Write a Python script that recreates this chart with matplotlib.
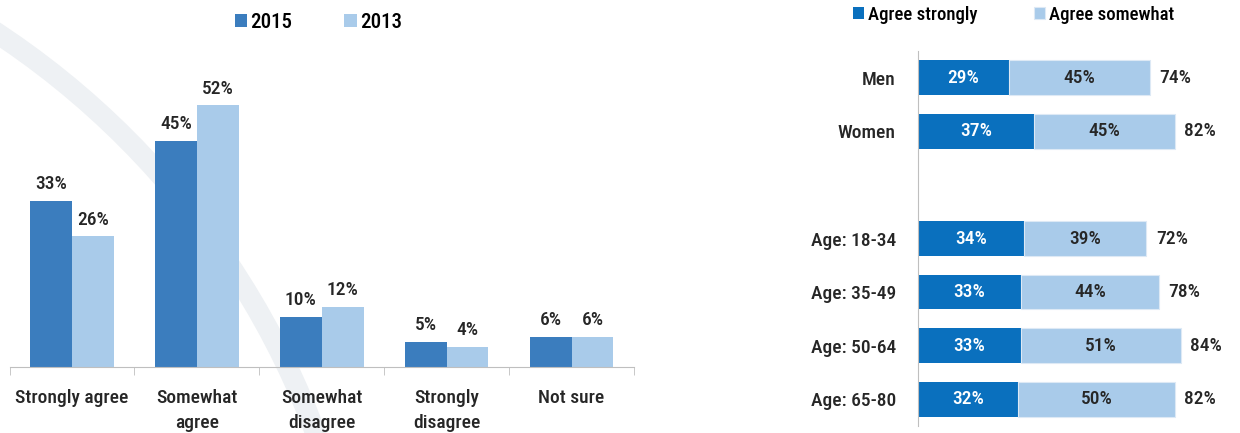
import matplotlib.pyplot as plt
import numpy as np
from matplotlib.patches import Arc

# left chart data
categories = ['Strongly agree', 'Somewhat\nagree', 'Somewhat\ndisagree', 'Strongly\ndisagree', 'Not sure']
vals_2015 = [33, 45, 10, 5, 6]
vals_2013 = [26, 52, 12, 4, 6]

# right chart data
groups = ['Men', 'Women', 'Age: 18-34', 'Age: 35-49', 'Age: 50-64', 'Age: 65-80']
agree_strongly = [29, 37, 34, 33, 33, 32]
agree_somewhat = [45, 45, 39, 44, 51, 50]
totals = [74, 82, 72, 78, 84, 82]

plt.rcParams['font.family'] = ['Roboto Condensed', 'Liberation Sans Narrow', 'Roboto', 'DejaVu Sans']
plt.rcParams['font.size'] = 14
plt.rcParams['font.weight'] = 500

dark_left = '#3B7DBE'
dark_right = '#0A70BE'
light = '#A9CBEA'
txt = '#262626'
W, H = 1240, 433

fig = plt.figure(figsize=(12.4, 4.33), dpi=100)

# faint decorative arc in the background (inches, origin bottom-left)
arc = Arc((-4.59, -2.90), 16.54, 16.54, theta1=12, theta2=62,
          transform=fig.dpi_scale_trans, color='#eef1f4', lw=15, zorder=0)
fig.add_artist(arc)

# ---- left grouped bars
ax1 = fig.add_axes([9.5 / W, 1 - 367 / H, (634 - 9.5) / W, 302 / H])
x = np.arange(len(categories))
bw = 0.335
b1 = ax1.bar(x - bw / 2, vals_2015, bw, color=dark_left, label='2015')
b2 = ax1.bar(x + bw / 2, vals_2013, bw, color=light, label='2013')
for bars, vals in ((b1, vals_2015), (b2, vals_2013)):
    for r, v in zip(bars, vals):
        ax1.text(r.get_x() + r.get_width() / 2, v + 1.5, f'{v}%',
                 ha='center', va='bottom', color=txt)
ax1.set_xlim(-0.5, len(categories) - 0.5)
ax1.set_ylim(0, 60)
ax1.set_xticks(x)
ax1.set_xticklabels(categories, color=txt, linespacing=1.45)
ax1.set_xticks(np.arange(len(categories) + 1) - 0.5, minor=True)
ax1.tick_params(axis='x', which='major', length=0, pad=16)
ax1.tick_params(axis='x', which='minor', length=6, color='#bfbfbf')
ax1.set_yticks([])
for s in ('top', 'right', 'left'):
    ax1.spines[s].set_visible(False)
ax1.spines['bottom'].set_color('#bfbfbf')
ax1.patch.set_alpha(0)
fig.legend(handles=[b1, b2], loc='center left', bbox_to_anchor=(216 / W, 1 - 22 / H),
           ncol=2, frameon=False, fontsize=15, handlelength=0.6, handleheight=0.6,
           handletextpad=0.15, columnspacing=2.5)

# ---- right stacked horizontal bars
ax2 = fig.add_axes([918 / W, 1 - 426 / H, 313 / W, 375 / H])
y = np.array([0, 1, 3, 4, 5, 6])
bh = 0.65
h1 = ax2.barh(y, agree_strongly, bh, color=dark_right, label='Agree strongly')
h2 = ax2.barh(y, agree_somewhat, bh, left=agree_strongly, color=light,
              edgecolor='#dde9f5', linewidth=0.8, label='Agree somewhat')
for yi, a, b, t in zip(y, agree_strongly, agree_somewhat, totals):
    ax2.text(a / 2, yi, f'{a}%', ha='center', va='center', color='white')
    ax2.text(a + b / 2, yi, f'{b}%', ha='center', va='center', color=txt)
    ax2.text(a + b + 3, yi, f'{t}%', ha='left', va='center', color=txt)
ax2.set_ylim(6.5, -0.5)
ax2.set_xlim(0, 100)
ax2.set_yticks(y)
ax2.set_yticklabels(groups, color=txt)
ax2.tick_params(axis='y', length=0, pad=16)
ax2.set_xticks([])
for s in ('top', 'right', 'bottom'):
    ax2.spines[s].set_visible(False)
ax2.spines['left'].set_color('#bfbfbf')
ax2.patch.set_alpha(0)
fig.legend(handles=[h1, h2], loc='center left', bbox_to_anchor=(836 / W, 1 - 15 / H),
           ncol=2, frameon=False, fontsize=13.5, handlelength=0.6, handleheight=0.6,
           handletextpad=0.2, columnspacing=3.0)

fig.savefig('out.png', dpi=100)
